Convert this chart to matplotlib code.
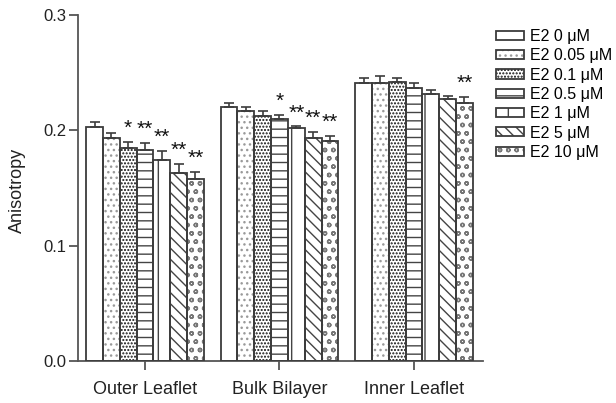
import matplotlib
matplotlib.use("Agg")
import matplotlib.pyplot as plt
import numpy as np
from matplotlib.patches import Patch

plt.rcParams['font.family'] = ['Liberation Sans', 'DejaVu Sans']
plt.rcParams['hatch.linewidth'] = 1.0

groups = ["Outer Leaflet", "Bulk Bilayer", "Inner Leaflet"]
series = ["E2 0 \u03bcM", "E2 0.05 \u03bcM", "E2 0.1 \u03bcM", "E2 0.5 \u03bcM",
          "E2 1 \u03bcM", "E2 5 \u03bcM", "E2 10 \u03bcM"]

# mean anisotropy per series, one value per group
means = [
    [0.2025, 0.2200, 0.2410],
    [0.1935, 0.2165, 0.2410],
    [0.1850, 0.2120, 0.2420],
    [0.1830, 0.2100, 0.2367],
    [0.1740, 0.2023, 0.2315],
    [0.1630, 0.1935, 0.2270],
    [0.1580, 0.1910, 0.2240],
]
sem = [
    [0.0044, 0.0035, 0.0044],
    [0.0044, 0.0035, 0.0060],
    [0.0052, 0.0044, 0.0035],
    [0.0060, 0.0030, 0.0044],
    [0.0080, 0.0010, 0.0035],
    [0.0080, 0.0050, 0.0030],
    [0.0060, 0.0044, 0.0050],
]
# significance marks per series and group
stars = [
    ["", "", ""],
    ["", "", ""],
    ["*", "", ""],
    ["**", "*", ""],
    ["**", "**", ""],
    ["**", "**", ""],
    ["**", "**", "**"],
]
yticks = [0.0, 0.1, 0.2, 0.3]

hatches = [None, '...', '.....', '--', '|', '\\\\\\', 'oo']
hatch_colors = ['#ffffff', '#9a9a9a', '#111111', '#444444', '#444444', '#444444', '#777777']

fig = plt.figure(figsize=(6.16, 4.03), dpi=100)
ax = fig.add_axes([0.1266, 0.104, 0.6575, 0.859])

x = np.arange(len(groups))
n = len(series)
w = 0.125
outline = '#3c3c3c'
handles = []
for i in range(n):
    xs = x + (i - (n - 1) / 2) * w
    m = np.array(means[i])
    e = np.array(sem[i])
    ax.bar(xs, m, w, color='white', hatch=hatches[i],
           edgecolor=hatch_colors[i], linewidth=0, zorder=2)
    ax.bar(xs, m, w, fill=False, edgecolor=outline, linewidth=1.3, zorder=3)
    ax.errorbar(xs, m, yerr=[np.zeros_like(e), e], fmt='none',
                ecolor=outline, elinewidth=1.2, capsize=3.5, capthick=1.2, zorder=4)
    for xi, mi, ei, s in zip(xs, m, e, stars[i]):
        if s:
            ax.text(xi, mi + ei + 0.0035, s, ha='center', va='bottom',
                    fontsize=15, color='#111111')
    handles.append((Patch(facecolor='white', hatch=hatches[i], edgecolor=hatch_colors[i], linewidth=0),
                    Patch(fill=False, edgecolor=outline, linewidth=1.3)))

ax.set_xlim(-0.498, 2.513)
ax.set_ylim(0, 0.3)
ax.set_yticks(yticks)
ax.set_yticklabels([f"{t:.1f}" for t in yticks])
ax.set_xticks(x)
ax.set_xticklabels(groups)
fig.text(17 / 616, 1 - 190 / 403, "Anisotropy", rotation=90, ha='center', va='center',
         fontsize=13, color='#222222')

for side in ['top', 'right']:
    ax.spines[side].set_visible(False)
for side in ['left', 'bottom']:
    ax.spines[side].set_color('#555555')
    ax.spines[side].set_linewidth(1.3)
ax.tick_params(axis='both', colors='#555555', width=1.3, length=6.5, labelcolor='#222222')
ax.tick_params(axis='y', labelsize=12, pad=2)
ax.tick_params(axis='x', labelsize=13, pad=8)

fig.legend(handles, series, loc='upper left', bbox_to_anchor=(0.806, 0.928),
           frameon=False, fontsize=11.5, handlelength=1.7, handleheight=0.5,
           handletextpad=0.4, labelspacing=0.27, borderpad=0, borderaxespad=0)

fig.savefig("out.png", dpi=100)
